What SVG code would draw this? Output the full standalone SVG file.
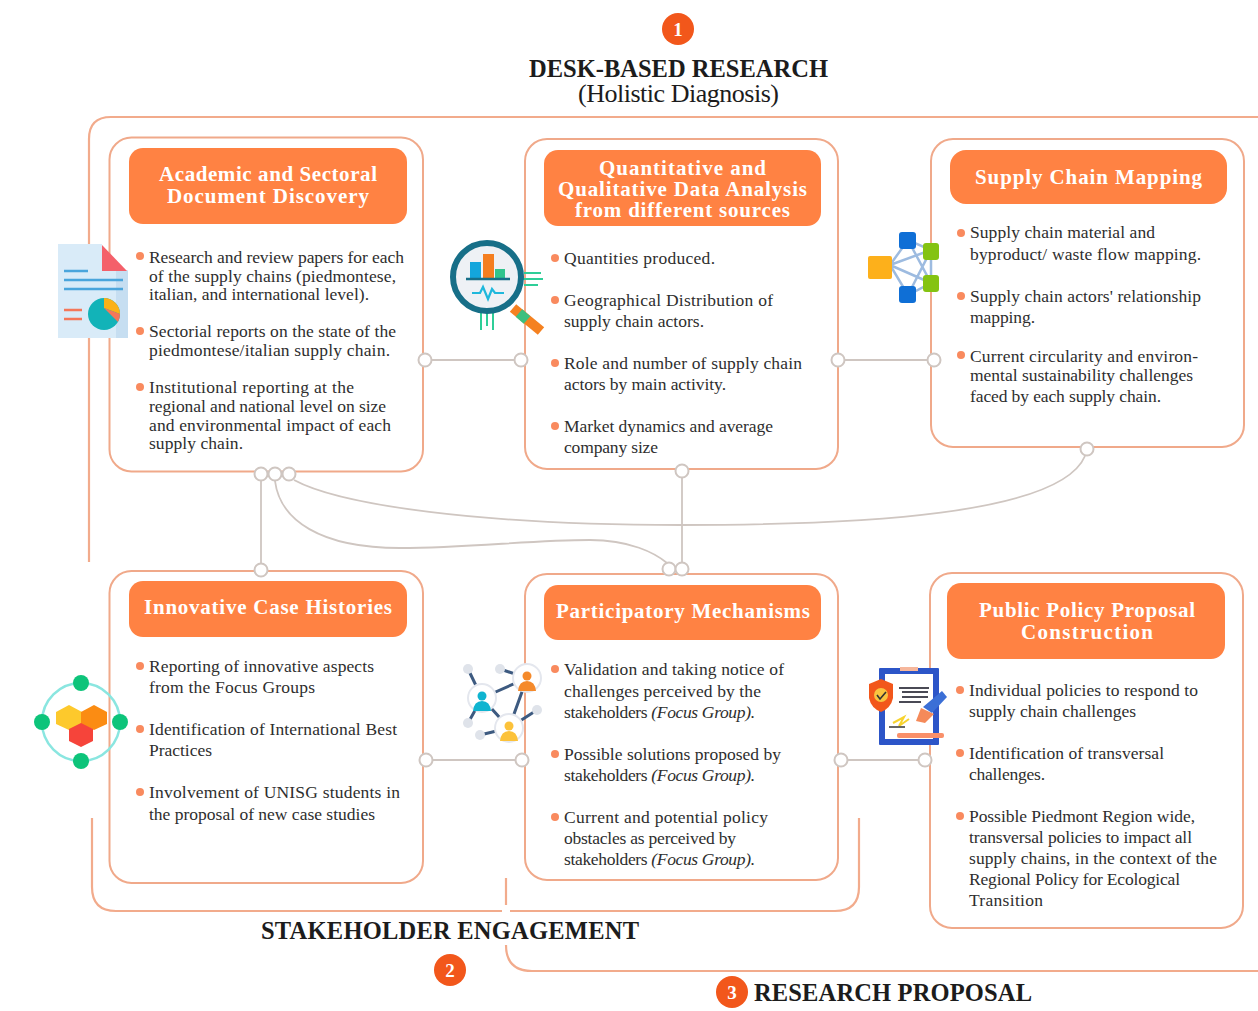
<svg xmlns="http://www.w3.org/2000/svg" width="1258" height="1011" viewBox="0 0 1258 1011">
<style>
text{font-family:"Liberation Serif","Times New Roman",serif;fill:#2e2e2e;font-size:17.500px}
.h{fill:#fff;font-size:21px;font-weight:bold}
.big{fill:#1c1c1c;font-size:26px}
.b{fill:#1c1c1c;font-size:24.500px;font-weight:bold}
.card{fill:#fff;stroke:#f0a98a;stroke-width:2}
.frame{fill:none;stroke:#f2ab8c;stroke-width:2.2}
.head{fill:#ff8243}
.dot{fill:#f98a5e}
.con{fill:none;stroke:#cfc6c1;stroke-width:1.800}
.port{fill:#fff;stroke:#cfc6c1;stroke-width:2}
.badge{fill:#f2571b}
.num{fill:#fff;font-size:19px;font-weight:bold;text-anchor:middle}
.net{stroke:#9dbbe0;stroke-width:2.5;fill:none}
.pl{stroke:#3d5a80;stroke-width:3;fill:none}
.gc{fill:#dfe3ea}
</style>
<rect width="1258" height="1011" fill="#fff"/>
<g id="frames">
<path class="frame" d="M89 562V139Q89 117 111 117H1258"/>
<path class="frame" d="M92 818V887Q92 911 116 911H502M510 911H835Q859 911 859 887V818"/>
<path class="frame" d="M506 878V905M506 945Q506 971 532 971H1258"/>
</g>
<g id="connectors">
<path class="con" d="M425 360H521M838 360H934M426 760H522M841 760H925M261 474V570M682 471V569"/>
<path class="con" d="M294 480C340 505 480 525 680 525C860 525 1060 515 1085 456"/>
<path class="con" d="M275 481C280 520 320 548 400 548C470 548 530 540 590 540C630 540 655 553 667 563"/>
</g>
<g id="card-academic">
<rect class="card" x="109.500" y="137.500" width="313.500" height="334" rx="22"/>
<rect class="head" x="129" y="148" width="278" height="76" rx="14"/>
<text class="h" x="159" y="181" textLength="218">Academic and Sectoral</text>
<text class="h" x="167" y="203" textLength="202">Document Discovery</text>
<circle class="dot" cx="140" cy="256" r="4"/><circle class="dot" cx="140" cy="331" r="4"/><circle class="dot" cx="140" cy="387" r="4"/>
<text x="149" y="263" textLength="255">Research and review papers for each</text>
<text x="149" y="282" textLength="247">of the supply chains (piedmontese,</text>
<text x="149" y="300" textLength="220">italian, and international level).</text>
<text x="149" y="337" textLength="247">Sectorial reports on the state of the</text>
<text x="149" y="356" textLength="241">piedmontese/italian supply chain.</text>
<text x="149" y="393" textLength="205">Institutional reporting at the</text>
<text x="149" y="412" textLength="237">regional and national level on size</text>
<text x="149" y="431" textLength="242">and environmental impact of each</text>
<text x="149" y="449" textLength="94">supply chain.</text>
</g>
<g id="card-analysis">
<rect class="card" x="525" y="139" width="313" height="330" rx="22"/>
<rect class="head" x="544" y="150" width="277" height="76" rx="14"/>
<text class="h" x="599" y="175" textLength="167">Quantitative and</text>
<text class="h" x="558" y="196" textLength="249">Qualitative Data Analysis</text>
<text class="h" x="575" y="217" textLength="215">from different sources</text>
<circle class="dot" cx="555" cy="258" r="4"/><circle class="dot" cx="555" cy="300" r="4"/><circle class="dot" cx="555" cy="363" r="4"/><circle class="dot" cx="555" cy="426" r="4"/>
<text x="564" y="264" textLength="151">Quantities produced.</text>
<text x="564" y="306" textLength="209">Geographical Distribution of</text>
<text x="564" y="327" textLength="140">supply chain actors.</text>
<text x="564" y="369" textLength="238">Role and number of supply chain</text>
<text x="564" y="390" textLength="162">actors by main activity.</text>
<text x="564" y="432" textLength="209">Market dynamics and average</text>
<text x="564" y="453" textLength="94">company size</text>
</g>
<g id="card-mapping">
<rect class="card" x="931" y="139" width="313" height="308" rx="22"/>
<rect class="head" x="950" y="150" width="277" height="54" rx="16"/>
<text class="h" x="975" y="184" textLength="227">Supply Chain Mapping</text>
<circle class="dot" cx="961" cy="233" r="4"/><circle class="dot" cx="961" cy="296" r="4"/><circle class="dot" cx="961" cy="355" r="4"/>
<text x="970" y="238" textLength="185">Supply chain material and</text>
<text x="970" y="260" textLength="231">byproduct/ waste flow mapping.</text>
<text x="970" y="302" textLength="231">Supply chain actors' relationship</text>
<text x="970" y="323" textLength="65">mapping.</text>
<text x="970" y="362" textLength="228">Current circularity and environ-</text>
<text x="970" y="381" textLength="223">mental sustainability challenges</text>
<text x="970" y="402" textLength="191">faced by each supply chain.</text>
</g>
<g id="card-cases">
<rect class="card" x="109.500" y="571" width="313.500" height="312" rx="22"/>
<rect class="head" x="129" y="581" width="278" height="56" rx="14"/>
<text class="h" x="144" y="614" textLength="248">Innovative Case Histories</text>
<circle class="dot" cx="140" cy="666" r="4"/><circle class="dot" cx="140" cy="729" r="4"/><circle class="dot" cx="140" cy="792" r="4"/>
<text x="149" y="672" textLength="225">Reporting of innovative aspects</text>
<text x="149" y="693" textLength="166">from the Focus Groups</text>
<text x="149" y="735" textLength="248">Identification of International Best</text>
<text x="149" y="756" textLength="63">Practices</text>
<text x="149" y="798" textLength="251">Involvement of UNISG students in</text>
<text x="149" y="820" textLength="226">the proposal of new case studies</text>
</g>
<g id="card-participatory">
<rect class="card" x="525" y="574" width="313" height="306" rx="22"/>
<rect class="head" x="544" y="585" width="277" height="55" rx="14"/>
<text class="h" x="556" y="618" textLength="254">Participatory Mechanisms</text>
<circle class="dot" cx="555" cy="669" r="4"/><circle class="dot" cx="555" cy="754" r="4"/><circle class="dot" cx="555" cy="817" r="4"/>
<text x="564" y="675" textLength="220">Validation and taking notice of</text>
<text x="564" y="697" textLength="197">challenges perceived by the</text>
<text x="564" y="718" textLength="191">stakeholders <tspan font-style="italic">(Focus Group).</tspan></text>
<text x="564" y="760" textLength="217">Possible solutions proposed by</text>
<text x="564" y="781" textLength="191">stakeholders <tspan font-style="italic">(Focus Group).</tspan></text>
<text x="564" y="823" textLength="204">Current and potential policy</text>
<text x="564" y="844" textLength="172">obstacles as perceived by</text>
<text x="564" y="865" textLength="191">stakeholders <tspan font-style="italic">(Focus Group).</tspan></text>
</g>
<g id="card-policy">
<rect class="card" x="930" y="573" width="313" height="355" rx="22"/>
<rect class="head" x="947" y="583" width="278" height="76" rx="14"/>
<text class="h" x="979" y="617" textLength="216">Public Policy Proposal</text>
<text class="h" x="1021" y="639" textLength="132">Construction</text>
<circle class="dot" cx="960" cy="690" r="4"/><circle class="dot" cx="960" cy="753" r="4"/><circle class="dot" cx="960" cy="816" r="4"/>
<text x="969" y="696" textLength="229">Individual policies to respond to</text>
<text x="969" y="717" textLength="167">supply chain challenges</text>
<text x="969" y="759" textLength="195">Identification of transversal</text>
<text x="969" y="780" textLength="76">challenges.</text>
<text x="969" y="822" textLength="226">Possible Piedmont Region wide,</text>
<text x="969" y="843" textLength="223">transversal policies to impact all</text>
<text x="969" y="864" textLength="248">supply chains, in the context of the</text>
<text x="969" y="885" textLength="211">Regional Policy for Ecological</text>
<text x="969" y="906" textLength="74">Transition</text>
</g>
<g id="ports">
<circle class="port" cx="425" cy="360" r="6.500"/><circle class="port" cx="521" cy="360" r="6.500"/>
<circle class="port" cx="838" cy="360" r="6.500"/><circle class="port" cx="934" cy="360" r="6.500"/>
<circle class="port" cx="261" cy="474" r="6.500"/><circle class="port" cx="275" cy="474" r="6.500"/><circle class="port" cx="289" cy="474" r="6.500"/>
<circle class="port" cx="682" cy="471" r="6.500"/><circle class="port" cx="1087" cy="449" r="6.500"/>
<circle class="port" cx="261" cy="570" r="6.500"/><circle class="port" cx="669" cy="569" r="6.500"/><circle class="port" cx="682" cy="569" r="6.500"/>
<circle class="port" cx="426" cy="760" r="6.500"/><circle class="port" cx="522" cy="760" r="6.500"/>
<circle class="port" cx="841" cy="760" r="6.500"/><circle class="port" cx="925" cy="760" r="6.500"/>
</g>
<g id="icon-document">
<path d="M58 244H102V270H128V338H58Z" fill="#d9ebf8"/>
<path d="M116 271H128V338H116Z" fill="#c6def1"/>
<path d="M102 245L127 271H102Z" fill="#f4606a"/>
<path d="M64 271H88M64 280H123M64 289H123" stroke="#4aa5dc" stroke-width="2.500"/>
<path d="M64 310H82M64 319H82" stroke="#f4775a" stroke-width="2.500"/>
<circle cx="104" cy="314" r="16" fill="#12b3b8"/>
<path d="M104 298A16 16 0 0 1 120 314L104 308Z" fill="#fbb117"/>
<path d="M104 308L120 314A16 16 0 0 1 118 322Z" fill="#f4775a"/>
</g>
<g id="icon-magnifier">
<path d="M524 273H541M521 279H543M524 285H538M481 310V330M487 312V326M493 310V330" stroke="#2fce98" stroke-width="2" fill="none"/>
<path d="M513 308L541 331" stroke="#f58120" stroke-width="10"/>
<path d="M519 313L527 320" stroke="#3cc07f" stroke-width="10"/>
<circle cx="487" cy="277" r="34" fill="#eef1f5" stroke="#176f88" stroke-width="6"/>
<rect x="470" y="262" width="11" height="17" fill="#13a6dc"/><rect x="483" y="254" width="11" height="25" fill="#f47e20"/><rect x="495" y="269" width="10" height="10" fill="#31c48d"/>
<path d="M466 279H510" stroke="#176f88" stroke-width="2.500"/>
<path d="M472 293H480L483 287L488 299L492 289L495 293H504" stroke="#1fb8dc" stroke-width="2.200" fill="none"/>
</g>
<g id="icon-network">
<path class="net" d="M890 265L908 240L931 250V283L908 295L890 265L931 250M890 265L931 283M908 240L931 283M908 295L931 250"/>
<rect x="868" y="256" width="24" height="23" rx="2" fill="#fdb01b"/>
<rect x="899" y="232" width="17" height="17" rx="3" fill="#0f6fd6"/><rect x="899" y="286" width="17" height="17" rx="3" fill="#0f6fd6"/>
<rect x="923" y="243" width="16" height="17" rx="3" fill="#84c312"/><rect x="923" y="275" width="16" height="17" rx="3" fill="#84c312"/>
</g>
<g id="icon-cubes">
<circle cx="81" cy="722" r="39" fill="none" stroke="#8ae6e0" stroke-width="2.500"/>
<circle cx="81" cy="683" r="8" fill="#0dc47a"/><circle cx="81" cy="761" r="8" fill="#0dc47a"/><circle cx="42" cy="722" r="8" fill="#0dc47a"/><circle cx="120" cy="722" r="8" fill="#0dc47a"/>
<path d="M56 712L69 705L82 712V724L69 730L56 724Z" fill="#fdc92c"/>
<path d="M81 712L94 705L107 712V724L94 730L81 724Z" fill="#fb8c13"/>
<path d="M69 729L81 723L93 729V741L81 747L69 741Z" fill="#f6443a"/>
</g>
<g id="icon-people">
<path class="pl" d="M468 669L482 698M500 669L527 678M482 698L527 678M527 678L509 728M482 698L509 728M482 698L468 723M509 728L480 735M509 728L537 710"/>
<circle cx="468" cy="669" r="5" class="gc"/><circle cx="500" cy="669" r="5" class="gc"/><circle cx="468" cy="723" r="5" class="gc"/><circle cx="480" cy="735" r="5" class="gc"/><circle cx="537" cy="710" r="5" class="gc"/>
<circle cx="527" cy="678" r="14" fill="#fff" stroke="#e4e7ee" stroke-width="2"/><circle cx="482" cy="698" r="14" fill="#fff" stroke="#e4e7ee" stroke-width="2"/><circle cx="509" cy="728" r="14" fill="#fff" stroke="#e4e7ee" stroke-width="2"/>
<circle cx="527" cy="676" r="4.500" fill="#f58a2b"/><path d="M518 691Q519 681 527 681Q535 681 536 691Z" fill="#f58a2b"/>
<circle cx="482" cy="696" r="4.500" fill="#0fb4d0"/><path d="M473 711Q474 701 482 701Q490 701 491 711Z" fill="#0fb4d0"/>
<circle cx="509" cy="726" r="4.500" fill="#fcc23a"/><path d="M500 741Q501 731 509 731Q517 731 518 741Z" fill="#fcc23a"/>
</g>
<g id="icon-clipboard">
<rect x="879" y="668" width="60" height="77" rx="1" fill="#2c55c8"/>
<rect x="885" y="674" width="48" height="65" fill="#fff"/>
<rect x="900" y="667" width="18" height="4" fill="#f6b79c"/>
<path d="M899 688H929M902 692H928M902 697H928M899 702H921" stroke="#4a4a55" stroke-width="2"/>
<path d="M869 684L881 679L893 684V698Q891 708 881 712Q871 708 869 698Z" fill="#f2571b"/>
<circle cx="881" cy="695" r="7" fill="#f9c440"/><path d="M877 695L880 699L886 692" stroke="#333" stroke-width="1.600" fill="none"/>
<path d="M893 723L904 717L899 726L909 719" stroke="#f7d32e" stroke-width="2" fill="none"/><path d="M889 727H905" stroke="#333" stroke-width="1.500"/>
<path d="M916 721L921 708L934 714L925 723Z" fill="#f58a5a"/><path d="M923 707L942 691L947 697L932 713Z" fill="#3b6fd6"/>
<rect x="897" y="733" width="47" height="5" rx="2" fill="#f9906a"/>
</g>
<g id="titles">
<circle class="badge" cx="678" cy="29" r="16"/><text class="num" x="678" y="36">1</text>
<text class="b" x="529" y="77" textLength="299">DESK-BASED RESEARCH</text>
<text class="big" x="578" y="102" textLength="201">(Holistic Diagnosis)</text>
<text class="b" x="261" y="939" textLength="378">STAKEHOLDER ENGAGEMENT</text>
<circle class="badge" cx="450" cy="970" r="16"/><text class="num" x="450" y="977">2</text>
<circle class="badge" cx="732" cy="992" r="16"/><text class="num" x="732" y="999">3</text>
<text class="b" x="754" y="1001" textLength="278">RESEARCH PROPOSAL</text>
</g>
</svg>
